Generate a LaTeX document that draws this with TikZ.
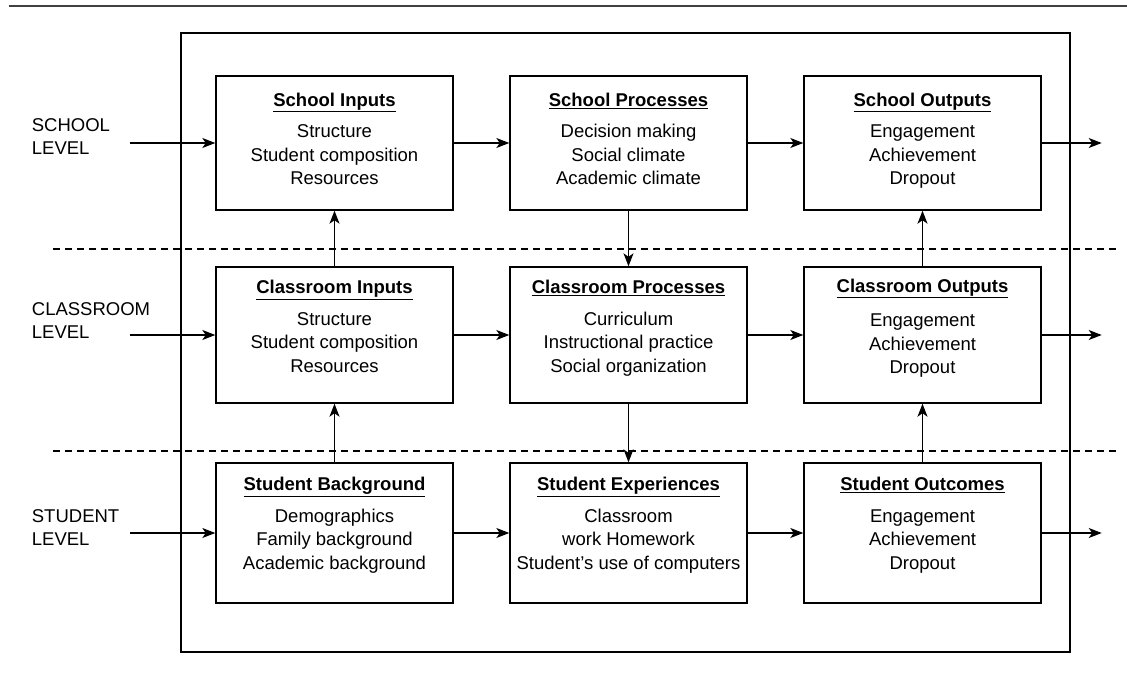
\documentclass[tikz,border=0pt]{standalone}
\usepackage{fontspec}
\setmainfont{Liberation Sans}
\usetikzlibrary{positioning, arrows.meta}

\newcommand{\boxtitle}[2][8pt]{\underline{\textbf{#2}}\\[#1]}
\newcommand{\boxfoot}[1]{\\[#1]\mbox{}}

\begin{document}
\begin{tikzpicture}[
    x=1pt, y=-1pt,
    node distance=195pt and 294pt,
    on grid,
    every node/.style={font=\fontsize{18.5pt}{23.5pt}\selectfont},
    block/.style={draw, line width=1.4pt, minimum width=237pt, minimum height=#1, align=center, inner sep=0pt},
    block/.default=136pt,
    level/.style={anchor=north west, align=left, inner sep=0pt},
    flow/.style={line width=1.2pt, -{Stealth[length=13pt, width=10pt, inset=3.5pt]}},
    divider/.style={line width=1.1pt, dash pattern=on 7pt off 5pt}
]
   \useasboundingbox (0,0) rectangle (1127,674);

   % Frame and level dividers
   \draw[line width=1.3pt, black!75] (9,6) -- (1127,6);
   \draw[line width=1.1pt] (181,33) rectangle (1070,652);
   \draw[divider] (53,249) -- (1117,249);
   \draw[divider] (53,451) -- (1117,451);

   % Levels
   \node[level] (lvS) at (31.7,118) {SCHOOL\\LEVEL};
   \node[level] (lvC) at (31.7,302) {CLASSROOM\\LEVEL};
   \node[level] (lvU) at (31.7,509) {STUDENT\\LEVEL};

   % School row
   \node[block=134pt] (si) at (334.5,143) {\boxtitle{School Inputs}Structure\\Student composition\\Resources\boxfoot{-15pt}};
   \node[block=134pt] (sp) [right=of si] {\boxtitle{School Processes}Decision making\\Social climate\\Academic climate\boxfoot{-15pt}};
   \node[block=134pt] (so) [right=of sp] {\boxtitle{School Outputs}Engagement\\Achievement\\Dropout\boxfoot{-15pt}};

   % Classroom row
   \node[block] (ci) [below=192pt of si] {\boxtitle{Classroom Inputs}Structure\\Student composition\\Resources\boxfoot{-6.5pt}};
   \node[block] (cp) [right=of ci] {\boxtitle{Classroom Processes}Curriculum\\Instructional practice\\Social organization\boxfoot{-6.5pt}};
   \node[block] (co) [right=of cp] {\boxtitle[11pt]{Classroom Outputs}Engagement\\Achievement\\Dropout\boxfoot{-6.5pt}};

   % Student row
   \node[block=140pt] (ub) [below=198pt of ci] {\boxtitle{Student Background}Demographics\\Family background\\Academic background\boxfoot{-4.5pt}};
   \node[block=140pt] (ue) [right=of ub] {\boxtitle{Student Experiences}Classroom\\work Homework\\Student’s use of computers\boxfoot{-4.5pt}};
   \node[block=140pt] (uo) [right=of ue] {\boxtitle{Student Outcomes}Engagement\\Achievement\\Dropout\boxfoot{-4.5pt}};

   % Free ends
   \coordinate[left=85pt of si.west] (inS);
   \coordinate[left=85pt of ci.west] (inC);
   \coordinate[left=85pt of ub.west] (inU);
   \coordinate[right=60pt of so.east] (outS);
   \coordinate[right=60pt of co.east] (outC);
   \coordinate[right=60pt of uo.east] (outU);

   % Arrows
   \path[flow]
   (inS) edge (si)
   (si) edge (sp)
   (sp) edge (so)
   (so) edge (outS)

   (inC) edge (ci)
   (ci) edge (cp)
   (cp) edge (co)
   (co) edge (outC)

   (inU) edge (ub)
   (ub) edge (ue)
   (ue) edge (uo)
   (uo) edge (outU)

   (ci) edge (si)
   (ub) edge (ci)
   (sp) edge (cp)
   (cp) edge (ue)
   (co) edge (so)
   (uo) edge (co);
\end{tikzpicture}
\end{document}
